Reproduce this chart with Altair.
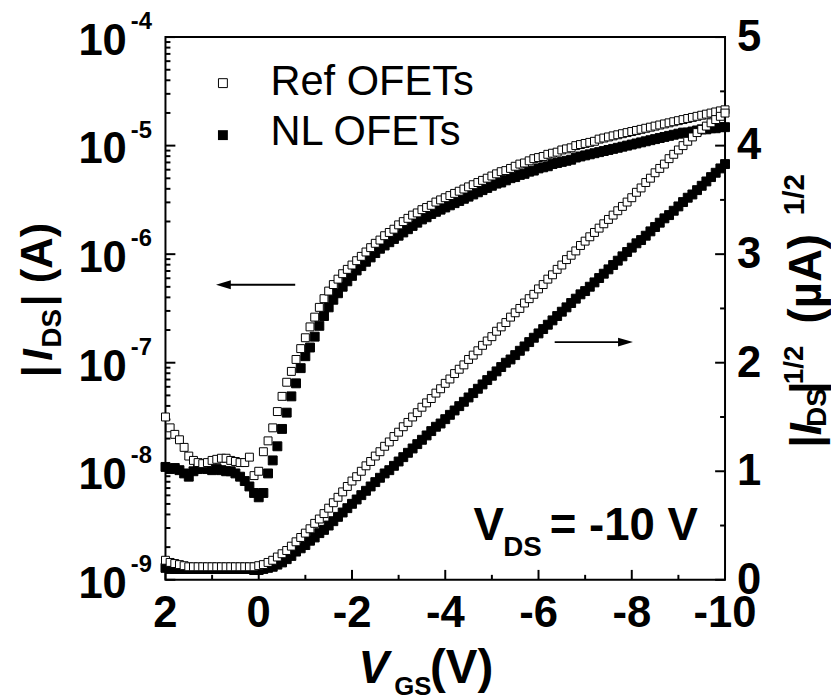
import altair as alt
import pandas as pd

FONT = "Liberation Sans"
W, H = 565, 548

# ---------------- data ----------------
VGS = [
    2.0, 1.9, 1.8, 1.7, 1.6, 1.5, 1.4, 1.3, 1.2, 1.1,
    1.0, 0.9, 0.8, 0.7, 0.6, 0.5, 0.4, 0.3, 0.2, 0.1,
    0.0, -0.1, -0.2, -0.3, -0.4, -0.5, -0.6, -0.7, -0.8, -0.9,
    -1.0, -1.1, -1.2, -1.3, -1.4, -1.5, -1.6, -1.7, -1.8, -1.9,
    -2.0, -2.1, -2.2, -2.3, -2.4, -2.5, -2.6, -2.7, -2.8, -2.9,
    -3.0, -3.1, -3.2, -3.3, -3.4, -3.5, -3.6, -3.7, -3.8, -3.9,
    -4.0, -4.1, -4.2, -4.3, -4.4, -4.5, -4.6, -4.7, -4.8, -4.9,
    -5.0, -5.1, -5.2, -5.3, -5.4, -5.5, -5.6, -5.7, -5.8, -5.9,
    -6.0, -6.1, -6.2, -6.3, -6.4, -6.5, -6.6, -6.7, -6.8, -6.9,
    -7.0, -7.1, -7.2, -7.3, -7.4, -7.5, -7.6, -7.7, -7.8, -7.9,
    -8.0, -8.1, -8.2, -8.3, -8.4, -8.5, -8.6, -8.7, -8.8, -8.9,
    -9.0, -9.1, -9.2, -9.3, -9.4, -9.5, -9.6, -9.7, -9.8, -9.9,
    -10.0,
]

# log10(|I_DS| / A), Ref OFETs (open squares)
LOG_REF = [
    -7.50, -7.60, -7.66, -7.71, -7.78, -7.86, -7.90, -7.92, -7.93, -7.92,
    -7.90, -7.89, -7.88, -7.88, -7.90, -7.91, -7.92, -7.92, -7.87, -8.04,
    -8.00, -7.82, -7.72, -7.60, -7.45, -7.31, -7.18, -7.08, -6.97, -6.87,
    -6.77, -6.67, -6.58, -6.49, -6.41, -6.34, -6.28, -6.23, -6.18, -6.14,
    -6.10, -6.06, -6.02, -5.98, -5.94, -5.90, -5.87, -5.83, -5.80, -5.77,
    -5.73, -5.70, -5.67, -5.64, -5.62, -5.59, -5.57, -5.55, -5.52, -5.50,
    -5.48, -5.46, -5.44, -5.42, -5.40, -5.38, -5.36, -5.34, -5.32, -5.30,
    -5.28, -5.26, -5.24, -5.23, -5.21, -5.19, -5.17, -5.16, -5.14, -5.12,
    -5.11, -5.10, -5.08, -5.07, -5.06, -5.04, -5.03, -5.02, -5.00, -4.99,
    -4.98, -4.97, -4.96, -4.94, -4.93, -4.92, -4.91, -4.90, -4.89, -4.88,
    -4.87, -4.86, -4.85, -4.84, -4.83, -4.82, -4.81, -4.80, -4.79, -4.78,
    -4.77, -4.76, -4.75, -4.74, -4.73, -4.72, -4.71, -4.70, -4.69, -4.68,
    -4.67,
]

# log10(|I_DS| / A), NL OFETs (filled squares)
LOG_NL = [
    -7.96, -7.98, -7.97, -7.99, -8.02, -8.05, -8.00, -7.98, -7.97, -7.98,
    -7.99, -7.98, -7.99, -8.00, -8.00, -8.02, -8.05, -8.09, -8.14, -8.20,
    -8.24, -8.20, -8.02, -7.90, -7.77, -7.61, -7.46, -7.31, -7.19, -7.05,
    -6.94, -6.86, -6.76, -6.66, -6.57, -6.49, -6.42, -6.36, -6.30, -6.25,
    -6.20, -6.15, -6.11, -6.07, -6.03, -5.99, -5.95, -5.92, -5.89, -5.86,
    -5.83, -5.80, -5.77, -5.74, -5.71, -5.68, -5.66, -5.63, -5.61, -5.59,
    -5.57, -5.55, -5.53, -5.51, -5.49, -5.47, -5.45, -5.43, -5.41, -5.39,
    -5.37, -5.35, -5.34, -5.32, -5.30, -5.29, -5.27, -5.26, -5.24, -5.23,
    -5.21, -5.20, -5.19, -5.17, -5.16, -5.15, -5.14, -5.13, -5.11, -5.10,
    -5.09, -5.08, -5.07, -5.06, -5.05, -5.04, -5.03, -5.02, -5.01, -5.00,
    -4.99, -4.98, -4.97, -4.96, -4.95, -4.94, -4.93, -4.92, -4.91, -4.90,
    -4.89, -4.88, -4.88, -4.87, -4.86, -4.85, -4.85, -4.84, -4.84, -4.83,
    -4.83,
]

# |I_DS|^(1/2) in (uA)^(1/2), Ref OFETs
SQRT_REF = [
    0.18, 0.16, 0.15, 0.14, 0.13, 0.12, 0.12, 0.12, 0.12, 0.12,
    0.12, 0.12, 0.12, 0.12, 0.12, 0.12, 0.12, 0.12, 0.12, 0.12,
    0.13, 0.14, 0.16, 0.18, 0.21, 0.24, 0.27, 0.31, 0.35, 0.39,
    0.43, 0.47, 0.52, 0.56, 0.61, 0.66, 0.71, 0.76, 0.81, 0.86,
    0.91, 0.95, 1.00, 1.05, 1.09, 1.14, 1.18, 1.23, 1.27, 1.32,
    1.36, 1.41, 1.45, 1.50, 1.54, 1.59, 1.63, 1.67, 1.72, 1.76,
    1.81, 1.85, 1.90, 1.94, 1.98, 2.03, 2.07, 2.11, 2.16, 2.20,
    2.24, 2.29, 2.33, 2.37, 2.42, 2.46, 2.50, 2.55, 2.59, 2.63,
    2.68, 2.72, 2.77, 2.81, 2.86, 2.90, 2.95, 2.99, 3.03, 3.08,
    3.12, 3.16, 3.20, 3.24, 3.28, 3.32, 3.36, 3.40, 3.44, 3.48,
    3.52, 3.57, 3.61, 3.66, 3.70, 3.75, 3.79, 3.83, 3.88, 3.92,
    3.96, 4.00, 4.04, 4.08, 4.12, 4.15, 4.18, 4.21, 4.24, 4.27,
    4.30,
]

# |I_DS|^(1/2) in (uA)^(1/2), NL OFETs
SQRT_NL = [
    0.11, 0.10, 0.10, 0.10, 0.10, 0.10, 0.10, 0.10, 0.10, 0.10,
    0.10, 0.10, 0.10, 0.10, 0.10, 0.10, 0.10, 0.10, 0.10, 0.09,
    0.09, 0.10, 0.11, 0.12, 0.14, 0.16, 0.19, 0.22, 0.26, 0.29,
    0.32, 0.36, 0.39, 0.43, 0.46, 0.50, 0.54, 0.58, 0.62, 0.66,
    0.70, 0.74, 0.78, 0.82, 0.86, 0.90, 0.94, 0.98, 1.01, 1.05,
    1.09, 1.13, 1.17, 1.21, 1.25, 1.29, 1.33, 1.37, 1.41, 1.44,
    1.48, 1.52, 1.56, 1.60, 1.64, 1.68, 1.72, 1.76, 1.80, 1.84,
    1.88, 1.92, 1.96, 2.00, 2.03, 2.07, 2.11, 2.15, 2.19, 2.23,
    2.27, 2.31, 2.35, 2.39, 2.43, 2.47, 2.51, 2.55, 2.59, 2.63,
    2.66, 2.70, 2.74, 2.78, 2.82, 2.86, 2.90, 2.94, 2.98, 3.02,
    3.06, 3.10, 3.13, 3.17, 3.21, 3.25, 3.29, 3.33, 3.36, 3.40,
    3.44, 3.48, 3.52, 3.55, 3.59, 3.63, 3.67, 3.71, 3.75, 3.79,
    3.83,
]

# axis ticks / labels
X_TICKS = [2, 0, -2, -4, -6, -8, -10]
X_LABELS = ["2", "0", "-2", "-4", "-6", "-8", "-10"]
X_MINOR_TICKS = [1, -1, -3, -5, -7, -9]
LEFT_MAJOR = [1e-9, 1e-8, 1e-7, 1e-6, 1e-5, 1e-4]
LEFT_BASE = ["10", "10", "10", "10", "10", "10"]
LEFT_EXP = ["-9", "-8", "-7", "-6", "-5", "-4"]
LEFT_MINOR = [k * 10.0 ** e for e in range(-9, -4) for k in range(2, 10)]
RIGHT_MAJOR = [0, 1, 2, 3, 4, 5]
RIGHT_LABELS = ["0", "1", "2", "3", "4", "5"]
RIGHT_MINOR = [0.5, 1.5, 2.5, 3.5, 4.5]

LEGEND = ["Ref OFETs", "NL OFETs"]

# ---------------- tables ----------------
df = pd.DataFrame({
    "V": VGS,
    "I_ref": [10.0 ** v for v in LOG_REF],
    "I_nl": [10.0 ** v for v in LOG_NL],
    "S_ref": SQRT_REF,
    "S_nl": SQRT_NL,
})

x_scale = alt.Scale(domain=[-10, 2], reverse=True, nice=False, zero=False)
log_scale = alt.Scale(type="log", domain=[1e-9, 1e-4], nice=False)
lin_scale = alt.Scale(domain=[0, 5], nice=False, zero=False)

xq = alt.X("V:Q", scale=x_scale, axis=None)


def text(s, x, y, size, weight="bold", style="normal", align="left",
         baseline="alphabetic", angle=0):
    return alt.Chart(pd.DataFrame({"s": [s]})).mark_text(
        font=FONT, fontSize=size, fontWeight=weight, fontStyle=style,
        align=align, baseline=baseline, angle=angle, color="black",
    ).encode(x=alt.value(x), y=alt.value(y), text="s:N")


# ---------------- left (log) group ----------------
left_major_ticks = alt.Chart(pd.DataFrame({"t": LEFT_MAJOR})).mark_rule(
    color="black", strokeWidth=2).encode(
    y=alt.Y("t:Q", scale=log_scale, axis=None), x=alt.value(0), x2=alt.value(10))
left_minor_ticks = alt.Chart(pd.DataFrame({"t": LEFT_MINOR})).mark_rule(
    color="black", strokeWidth=2).encode(
    y=alt.Y("t:Q", scale=log_scale, axis=None), x=alt.value(0), x2=alt.value(5))

lab_df = pd.DataFrame({"t": LEFT_MAJOR, "b": LEFT_BASE, "e": LEFT_EXP})
left_base_labels = alt.Chart(lab_df).mark_text(
    font=FONT, fontSize=44, fontWeight="bold", align="right",
    baseline="alphabetic", dy=18, color="black").encode(
    y=alt.Y("t:Q", scale=log_scale, axis=None), x=alt.value(-39), text="b:N")
left_exp_labels = alt.Chart(lab_df).mark_text(
    font=FONT, fontSize=24, fontWeight="bold", align="left",
    baseline="alphabetic", dy=-8, color="black").encode(
    y=alt.Y("t:Q", scale=log_scale, axis=None), x=alt.value(-35), text="e:N")

bottom_major = alt.Chart(pd.DataFrame({"t": X_TICKS})).mark_rule(
    color="black", strokeWidth=2).encode(
    x=alt.X("t:Q", scale=x_scale, axis=None), y=alt.value(H - 10), y2=alt.value(H))
bottom_minor = alt.Chart(pd.DataFrame({"t": X_MINOR_TICKS})).mark_rule(
    color="black", strokeWidth=2).encode(
    x=alt.X("t:Q", scale=x_scale, axis=None), y=alt.value(H - 5), y2=alt.value(H))
bottom_labels = alt.Chart(pd.DataFrame({"t": X_TICKS, "l": X_LABELS})).mark_text(
    font=FONT, fontSize=44, fontWeight="bold", align="center",
    baseline="alphabetic", color="black").encode(
    x=alt.X("t:Q", scale=x_scale, axis=None), y=alt.value(H + 48), text="l:N")

nl_log = alt.Chart(df).mark_square(
    size=81, fill="black", stroke="black", strokeWidth=1, opacity=1).encode(
    x=xq, y=alt.Y("I_nl:Q", scale=log_scale, axis=None))
ref_log = alt.Chart(df).mark_square(
    size=64, fill="white", stroke="black", strokeWidth=1, opacity=1).encode(
    x=xq, y=alt.Y("I_ref:Q", scale=log_scale, axis=None))

# legend (drawn by hand)
leg_open = alt.Chart(pd.DataFrame({"s": [LEGEND[0]]})).mark_square(
    size=81, fill="white", stroke="black", strokeWidth=1, opacity=1).encode(
    x=alt.value(58), y=alt.value(46.5))
leg_fill = alt.Chart(pd.DataFrame({"s": [LEGEND[1]]})).mark_square(
    size=100, fill="black", opacity=1).encode(x=alt.value(58), y=alt.value(99))
leg_t1 = text(LEGEND[0], 106, 58, 42, weight="normal")
leg_t2 = text(LEGEND[1], 106, 109, 42, weight="normal")

# arrows
arrow_left = alt.Chart(pd.DataFrame({"a": [0]})).mark_rule(
    color="black", strokeWidth=2).encode(
    x=alt.value(57), x2=alt.value(131), y=alt.value(250))
head_left = alt.Chart(pd.DataFrame({"a": [0]})).mark_point(
    shape="M-1,0L1,-0.6L1,0.6Z", size=225, filled=True, color="black",
    opacity=1).encode(x=alt.value(58.5), y=alt.value(250))
arrow_right = alt.Chart(pd.DataFrame({"a": [0]})).mark_rule(
    color="black", strokeWidth=2).encode(
    x=alt.value(393), x2=alt.value(462), y=alt.value(308))
head_right = alt.Chart(pd.DataFrame({"a": [0]})).mark_point(
    shape="M1,0L-1,-0.6L-1,0.6Z", size=225, filled=True, color="black",
    opacity=1).encode(x=alt.value(464.5), y=alt.value(308))

# V_DS annotation
vds = [
    text("V", 311, 508, 46),
    text("DS", 341, 524, 28),
    text("= -10 V", 388, 508, 46),
]

# x title
xtitle = [
    text("V", 195, 652, 46, style="italic"),
    text("GS", 231, 664, 26),
    text("(V)", 267, 652, 48),
]

# left y title (rotated)
ltitle = [
    text("|", -115, 338, 42, style="italic", align="center", angle=270),
    text("I", -115, 321, 42, style="italic", align="center", angle=270),
    text("DS", -105, 294, 28, align="center", angle=270),
    text("|", -115, 266, 42, align="center", angle=270),
    text("(A)", -115, 218, 44, align="center", angle=270),
]

# right y title (rotated)
rtitle = [
    text("|", 662, 409, 44, style="italic", align="center", angle=270),
    text("I", 662, 396, 44, style="italic", align="center", angle=270),
    text("DS", 667, 374, 28, align="center", angle=270),
    text("|", 662, 354, 44, align="center", angle=270),
    text("1/2", 644, 331, 28, align="center", angle=270),
    text("(µA)", 662, 244, 46, align="center", angle=270),
    text("1/2", 645, 159, 30, align="center", angle=270),
]

log_group = alt.layer(
    left_major_ticks, left_minor_ticks, left_base_labels, left_exp_labels,
    bottom_major, bottom_minor, bottom_labels, nl_log, ref_log,
    leg_open, leg_fill, leg_t1, leg_t2,
    arrow_left, head_left, arrow_right, head_right,
    *vds, *xtitle, *ltitle, *rtitle,
)

# ---------------- right (sqrt) group ----------------
right_major_ticks = alt.Chart(pd.DataFrame({"t": RIGHT_MAJOR})).mark_rule(
    color="black", strokeWidth=2).encode(
    y=alt.Y("t:Q", scale=lin_scale, axis=None),
    x=alt.value(W - 10), x2=alt.value(W))
right_minor_ticks = alt.Chart(pd.DataFrame({"t": RIGHT_MINOR})).mark_rule(
    color="black", strokeWidth=2).encode(
    y=alt.Y("t:Q", scale=lin_scale, axis=None),
    x=alt.value(W - 5), x2=alt.value(W))
right_labels = alt.Chart(pd.DataFrame({"t": RIGHT_MAJOR, "l": RIGHT_LABELS})).mark_text(
    font=FONT, fontSize=44, fontWeight="bold", align="left",
    baseline="alphabetic", dy=14, color="black").encode(
    y=alt.Y("t:Q", scale=lin_scale, axis=None), x=alt.value(W + 12), text="l:N")
nl_sqrt = alt.Chart(df).mark_square(
    size=81, fill="black", stroke="black", strokeWidth=1, opacity=1).encode(
    x=xq, y=alt.Y("S_nl:Q", scale=lin_scale, axis=None))
ref_sqrt = alt.Chart(df).mark_square(
    size=64, fill="white", stroke="black", strokeWidth=1, opacity=1).encode(
    x=xq, y=alt.Y("S_ref:Q", scale=lin_scale, axis=None))

sqrt_group = alt.layer(right_major_ticks, right_minor_ticks, right_labels,
                       nl_sqrt, ref_sqrt)

chart = alt.layer(log_group, sqrt_group).resolve_scale(y="independent").properties(
    width=W, height=H,
    autosize=alt.AutoSizeParams(type="none"),
    padding={"left": 159, "top": 26, "right": 107, "bottom": 118},
    background="white",
).configure_view(stroke="black", strokeWidth=2)

chart.save("out.html", embed_options={"renderer": "svg", "actions": False})
